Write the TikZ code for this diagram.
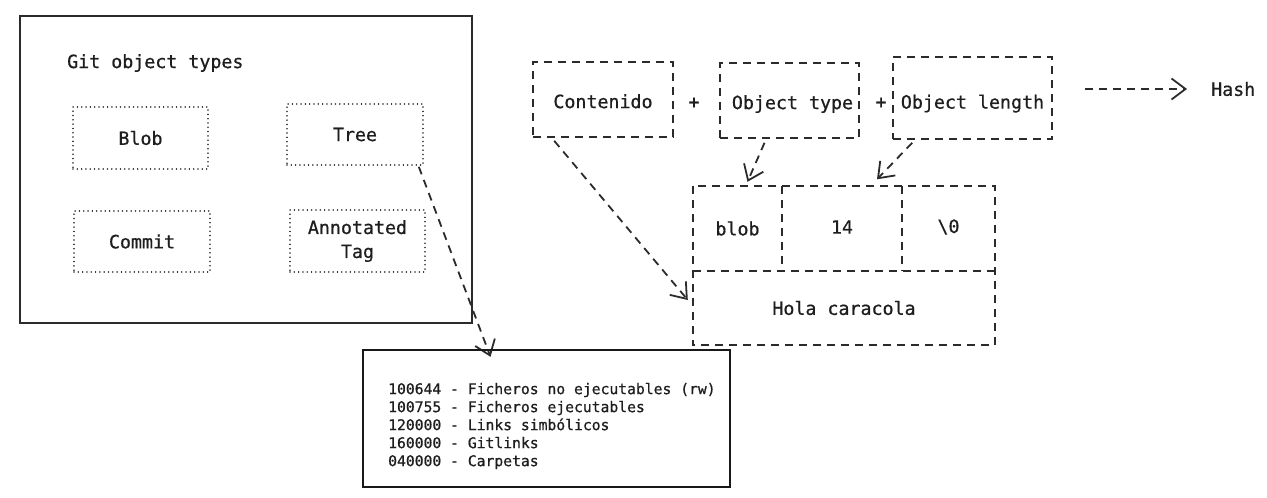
\documentclass[tikz,border=0pt]{standalone}
\usepackage{fontspec}
\setmonofont{DejaVu Sans Mono}[FakeBold=0.7]
\usetikzlibrary{arrows.meta,backgrounds}
\definecolor{ink}{HTML}{2B2B2B}
\definecolor{txt}{HTML}{1E1E1E}
\begin{document}
\begin{tikzpicture}[x=1pt,y=-1pt,
  lbl/.style={font=\ttfamily\fontsize{18.3}{24}\selectfont, text=txt, inner sep=0pt},
  small/.style={font=\ttfamily\fontsize{14.7}{18}\selectfont, text=txt, inner sep=0pt, align=left},
  dotbox/.style={lbl, draw=ink, line width=1.6pt, dash pattern=on 0.01pt off 4.3pt, line cap=round, inner sep=0pt},
  dashline/.style={draw=ink, line width=1.6pt, dash pattern=on 8pt off 6pt},
  dashbox/.style={lbl, dashline, inner sep=0pt},
  cell/.style={lbl, inner sep=0pt},
  solidbox/.style={draw=ink, line width=1.8pt, inner sep=0pt},
  arr/.style={draw=ink, line width=1.8pt, dash pattern=on 8pt off 6pt, -{Straight Barb[length=14pt,width=21pt,line width=1.8pt]}},
]
\useasboundingbox (0,0) rectangle (1267,498);

% table lines first
\path (737.5,228.5) node[cell, minimum width=89pt, minimum height=85pt] (blobc) {}
      (842,227) node[cell, minimum width=120pt, minimum height=85pt] (len) {}
      (948.5,227) node[cell, minimum width=93pt, minimum height=85pt] (nul) {}
      (844,308) node[cell, minimum width=302pt, minimum height=74pt] (hola) {};
\draw[dashline] (blobc.north west) rectangle (hola.south east);
\draw[dashline] (blobc.south west) -- (nul.south east |- blobc.south);
\draw[dashline] (blobc.north east) -- (blobc.south east);
\draw[dashline] (nul.north west |- blobc.north) -- (nul.west |- blobc.south);

% left panel
\node[solidbox, minimum width=452pt, minimum height=307pt] (types) at (246,169.5) {};
\node[dotbox, minimum width=135pt, minimum height=62pt] (blob) at (140.5,138) {Blob};
\node[dotbox, minimum width=136pt, minimum height=61pt] (tree) at (355,134.5) {Tree};
\node[dotbox, minimum width=136pt, minimum height=61pt] (commit) at (142,241.5) {Commit};
\node[dotbox, minimum width=135pt, minimum height=62pt, align=center] (tag) at (357.5,241) {Annotated\\Tag};
\node[lbl, anchor=west] (title) at (67,63) {Git object types};

% modes box
\node[solidbox, line width=2.4pt, draw=black!90, minimum width=367pt, minimum height=137pt] (modes) at (546.5,418.5) {};
\node[small, anchor=west] (modetext) at (388,426) {100644 - Ficheros no ejecutables (rw)\\100755 - Ficheros ejecutables\\120000 - Links simbólicos\\160000 - Gitlinks\\040000 - Carpetas};

% top row
\node[dashbox, minimum width=140pt, minimum height=75pt, text height=21.5pt, text depth=4.3pt] (cont) at (603,99.5) {Contenido};
\node[lbl] (plus1) at (694,103) {+};
\node[dashbox, minimum width=139pt, minimum height=75pt, text height=21.5pt, text depth=4.3pt] (otype) at (789.5,100.5) {\hspace*{6pt}Object type};
\node[lbl] (plus2) at (881,103) {+};
\node[dashbox, minimum width=159pt, minimum height=82pt, text height=25.5pt, text depth=4.3pt] (olen) at (972.5,98) {Object length};
\node[lbl, anchor=west] (hash) at (1211,89) {Hash};
\coordinate (hstart) at (1085,89);

% table texts
\node[lbl] (blobt) at (blobc) {blob};
\node[lbl] (lent) at (len) {14};
\node[lbl] (nult) at (nul) {\textbackslash 0};
\node[lbl] (holat) at (hola) {Hola caracola};

% arrows
\begin{scope}[on background layer]
\draw[arr] (hstart) -- ([xshift=-24pt]hash.west);
\draw[arr] ([shift={(-5,1)}]tree.south east) -- ([shift={(-56,8)}]modes.north);
\draw[arr] ([shift={(22,3)}]cont.south west) -- ([shift={(-5,-8)}]hola.west);
\draw[arr] ([shift={(-25,4)}]otype.south) -- ([shift={(10,-4)}]blobc.north);
\draw[arr] ([shift={(20,3)}]olen.south west) -- ([shift={(35,-5)}]len.north);
\end{scope}
\end{tikzpicture}
\end{document}
